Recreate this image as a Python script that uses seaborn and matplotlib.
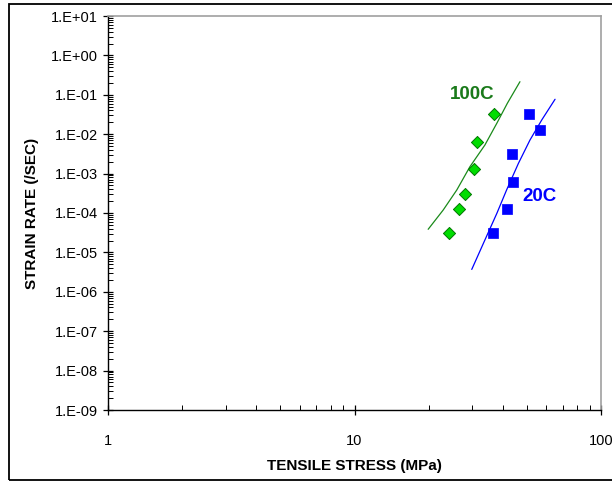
import matplotlib
matplotlib.use("Agg")
import matplotlib.pyplot as plt
import matplotlib.ticker as mticker
from matplotlib.patches import Rectangle
import seaborn as sns
import pandas as pd
import numpy as np

# ---- data ----
pts100_x = [24.2, 26.6, 28.1, 30.5, 31.3, 36.9]
pts100_y = [3.05e-5, 1.24e-4, 3.0e-4, 1.29e-3, 6.2e-3, 3.2e-2]
pts20_x = [36.4, 41.4, 44.1, 43.5, 56.6, 51.2]
pts20_y = [3.1e-5, 1.26e-4, 6.1e-4, 3.09e-3, 1.28e-2, 3.26e-2]

fit100_x = [19.9, 22.9, 26.0, 29.4, 33.8, 37.8, 41.7, 46.9]
fit100_y = [3.86e-5, 1.19e-4, 3.84e-4, 1.5e-3, 5.3e-3, 1.9e-2, 6.1e-2, 0.215]
fit20_x = [29.9, 33.8, 37.8, 41.4, 46.2, 51.5, 57.5, 65.1]
fit20_y = [3.7e-6, 2.06e-5, 9.8e-5, 3.84e-4, 1.8e-3, 7.1e-3, 2.3e-2, 7.7e-2]

y_exps = list(range(-9, 2))
x_ticks = [1, 10, 100]
x_ticklabels = ["1", "10", "100"]

sns.set_theme(style="white")
plt.rcParams['font.family'] = ['Liberation Sans', 'DejaVu Sans']

fig = plt.figure(figsize=(6.12, 4.83), dpi=100)
ax = fig.add_axes([108/612, 1 - 410/483, (601-108)/612, (410-16)/483])

df_fit100 = pd.DataFrame({"x": fit100_x, "y": fit100_y})
df_fit20 = pd.DataFrame({"x": fit20_x, "y": fit20_y})
df_p100 = pd.DataFrame({"x": pts100_x, "y": pts100_y})
df_p20 = pd.DataFrame({"x": pts20_x, "y": pts20_y})

sns.lineplot(data=df_fit100, x="x", y="y", ax=ax, color="#1a8a1a", linewidth=0.9,
             sort=False, estimator=None)
sns.lineplot(data=df_fit20, x="x", y="y", ax=ax, color="#0000ff", linewidth=0.9,
             sort=False, estimator=None)
sns.scatterplot(data=df_p100, x="x", y="y", ax=ax, marker="D", s=38,
                color="#00dd00", edgecolor="#007700", linewidth=0.7, zorder=3)
sns.scatterplot(data=df_p20, x="x", y="y", ax=ax, marker="s", s=55,
                color="#0000ff", edgecolor="#0000ff", linewidth=0.5, zorder=3)

ax.set_xscale("log")
ax.set_yscale("log")
ax.set_xlim(1, 100)
ax.set_ylim(1e-9, 10)

ax.set_xticks(x_ticks)
ax.set_xticklabels(x_ticklabels)
ax.set_yticks([10.0**e for e in y_exps])
ax.set_yticklabels([f"1.E{e:+03d}" for e in y_exps])
ax.xaxis.set_minor_locator(mticker.LogLocator(base=10, subs=np.arange(2, 10), numticks=20))
ax.yaxis.set_minor_locator(mticker.LogLocator(base=10, subs=np.arange(2, 10), numticks=40))
ax.xaxis.set_minor_formatter(mticker.NullFormatter())
ax.yaxis.set_minor_formatter(mticker.NullFormatter())

ax.tick_params(axis="both", which="major", direction="inout", length=7, width=0.9,
               color="black", labelsize=10.5, labelcolor="black")
ax.tick_params(axis="x", which="major", pad=14)
ax.tick_params(axis="y", which="major", pad=4)
ax.tick_params(axis="both", which="minor", direction="in", length=3.5, width=0.7,
               color="black")
ax.tick_params(bottom=True, left=True, top=False, right=False, which="both")

for side in ["left", "bottom"]:
    ax.spines[side].set_color("black")
    ax.spines[side].set_linewidth(1.0)
for side in ["top", "right"]:
    ax.spines[side].set_visible(True)
    ax.spines[side].set_color("#a0a0a0")
    ax.spines[side].set_linewidth(1.2)

ax.set_xlabel("TENSILE STRESS (MPa)", fontsize=11, fontweight="bold", color="black", labelpad=8)
ax.set_ylabel("STRAIN RATE (/SEC)", fontsize=11, fontweight="bold", color="black", labelpad=8)

ax.text(0.738, 0.800, "100C", transform=ax.transAxes, fontsize=13.5, fontweight="bold",
        color="#1a7a1a", ha="center", va="center")
ax.text(0.876, 0.541, "20C", transform=ax.transAxes, fontsize=13.5, fontweight="bold",
        color="#0000ff", ha="center", va="center")

fig.patches.append(Rectangle((9/612, 1 - 480/483), 1.2, (480-4)/483, transform=fig.transFigure,
                             fill=False, edgecolor="black", linewidth=1.3))

fig.savefig("out.png", dpi=100)
